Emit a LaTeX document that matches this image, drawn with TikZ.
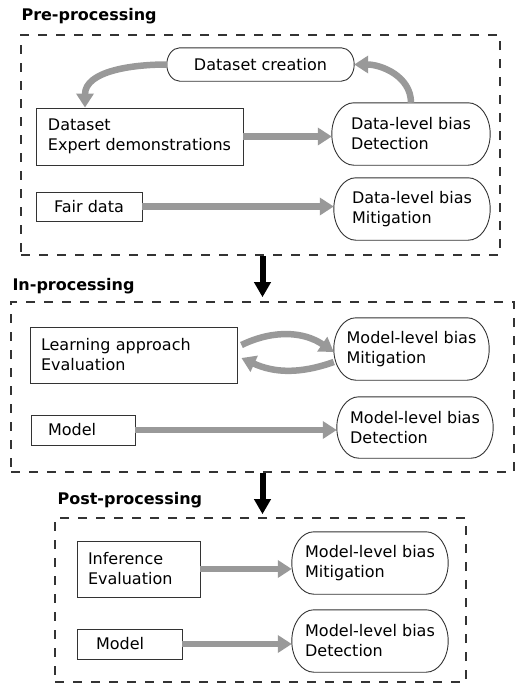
\documentclass[tikz,border=0pt]{standalone}
\usepackage{fontspec}
\setmainfont{DejaVu Sans}
\usepackage[dvipsnames]{xcolor}
\usetikzlibrary{calc,arrows.meta}
\definecolor{flowgray}{RGB}{153,153,153}
\definecolor{edgegray}{RGB}{51,51,51}

\begin{document}
\begin{tikzpicture}[x=1pt,y=-1pt,
  every node/.style={font=\fontsize{16}{20}\selectfont},
  stagebox/.style={draw=edgegray, line width=1.6pt, dash pattern=on 9pt off 9pt, inner sep=0pt},
  stagetitle/.style={anchor=base west, font=\fontsize{16}{20}\selectfont\bfseries},
  databox/.style={draw=edgegray, line width=0.9pt, align=left, inner ysep=0pt},
  biasbox/.style={align=left, minimum width=156pt, minimum height=62pt, inner sep=0pt},
  pillline/.style={draw=edgegray, line width=0.9pt},
  flow/.style={draw=flowgray, line width=6.5pt, -{Triangle[length=14pt,width=17pt]}},
  stage/.style={draw=black, line width=6pt, -{Triangle[length=15pt,width=16pt]}}
]
\useasboundingbox (0,0) rectangle (526,688); % page size

% stages
\node[stagebox, minimum width=479pt, minimum height=220pt] (pre) at (260.5,145) {}; % pre-processing frame
\node[stagebox, minimum width=503pt, minimum height=170pt] (inproc) at (262.5,387) {}; % in-processing frame
\node[stagebox, minimum width=411pt, minimum height=164pt] (post) at (260.5,600) {}; % post-processing frame
\node[stagetitle] (pretitle) at (18,20) {Pre-processing};
\node[stagetitle] (intitle) at (9,290) {In-processing};
\node[stagetitle] (posttitle) at (54,504) {Post-processing};

% pre-processing
\node[biasbox, minimum width=187pt, minimum height=33pt] (creation) at (260.5,64.5) {Dataset creation};
\node[databox, minimum width=207pt, minimum height=57pt] (dataset) at (139.5,136.5) {Dataset\\Expert demonstrations};
\node[biasbox, minimum width=158pt] (detpre) at (411,134) {Data-level bias\\Detection};
\node[databox, minimum width=106pt, minimum height=29pt] (fair) at (89,206.5) {Fair data};
\node[biasbox] (mitpre) at (412,209) {Data-level bias\\Mitigation};

% in-processing
\node[databox, text width=185pt, inner xsep=11pt, minimum height=56pt] (learn) at (133.5,355) {Learning approach\\Evaluation};
\node[biasbox, minimum width=155pt] (mitin) at (411.5,349) {Model-level bias\\Mitigation};
\node[databox, text width=70pt, inner xsep=17pt, minimum height=30pt] (modelin) at (83,430) {Model};
\node[biasbox, minimum height=61pt] (detin) at (415,427.5) {Model-level bias\\Detection};

% post-processing
\node[databox, text width=101pt, inner xsep=11pt, minimum height=56pt] (infer) at (138.5,569) {Inference\\Evaluation};
\node[biasbox] (mitpost) at (370,563) {Model-level bias\\Mitigation};
\node[databox, text width=67pt, inner xsep=19pt, minimum height=30pt] (modelpost) at (129.5,644) {Model};
\node[biasbox] (detpost) at (370,641) {Model-level bias\\Detection};

% pill outlines with elliptic ends
\foreach \pill/\rx in {creation/13pt,detpre/22pt,mitpre/22pt,mitin/22pt,detin/22pt,mitpost/22pt,detpost/22pt}
  \draw[pillline] let \p1=(\pill.north west), \p2=(\pill.south east), \n1={(\y1-\y2)/2} in
    (\x1+\rx,\y1) -- (\x2-\rx,\y1) arc[start angle=90, end angle=-90, x radius=\rx, y radius=\n1]
    -- (\x1+\rx,\y2) arc[start angle=270, end angle=90, x radius=\rx, y radius=\n1] -- cycle;

% flows
\draw[flow] (creation.west) to[out=180,in=90] ([xshift=-54.5pt]dataset.north); % back to dataset
\draw[flow] (detpre.north) to[out=90,in=0] (creation.east); % detection feeds creation
\draw[flow] (dataset.east) -- (dataset.east -| detpre.west);
\draw[flow] (fair.east) -- (fair.east -| mitpre.west);
\draw[flow] ([shift={(4pt,10pt)}]learn.east) to[bend left=30] ([yshift=-3pt]mitin.west); % loop top
\draw[flow] ([yshift=-13pt]mitin.west) to[bend left=22] ([shift={(4pt,-3pt)}]learn.east); % loop bottom
\draw[flow] (modelin.east) -- (modelin.east -| detin.west);
\draw[flow] (infer.east) -- (infer.east -| mitpost.west);
\draw[flow] (modelpost.east) -- (modelpost.east -| detpost.west);

% stage to stage
\draw[stage, shorten >=4pt] (inproc.north |- pre.south) -- (inproc.north);
\draw[stage, shorten >=3pt] (inproc.south) -- (inproc.south |- post.north);
\end{tikzpicture}
\end{document}
